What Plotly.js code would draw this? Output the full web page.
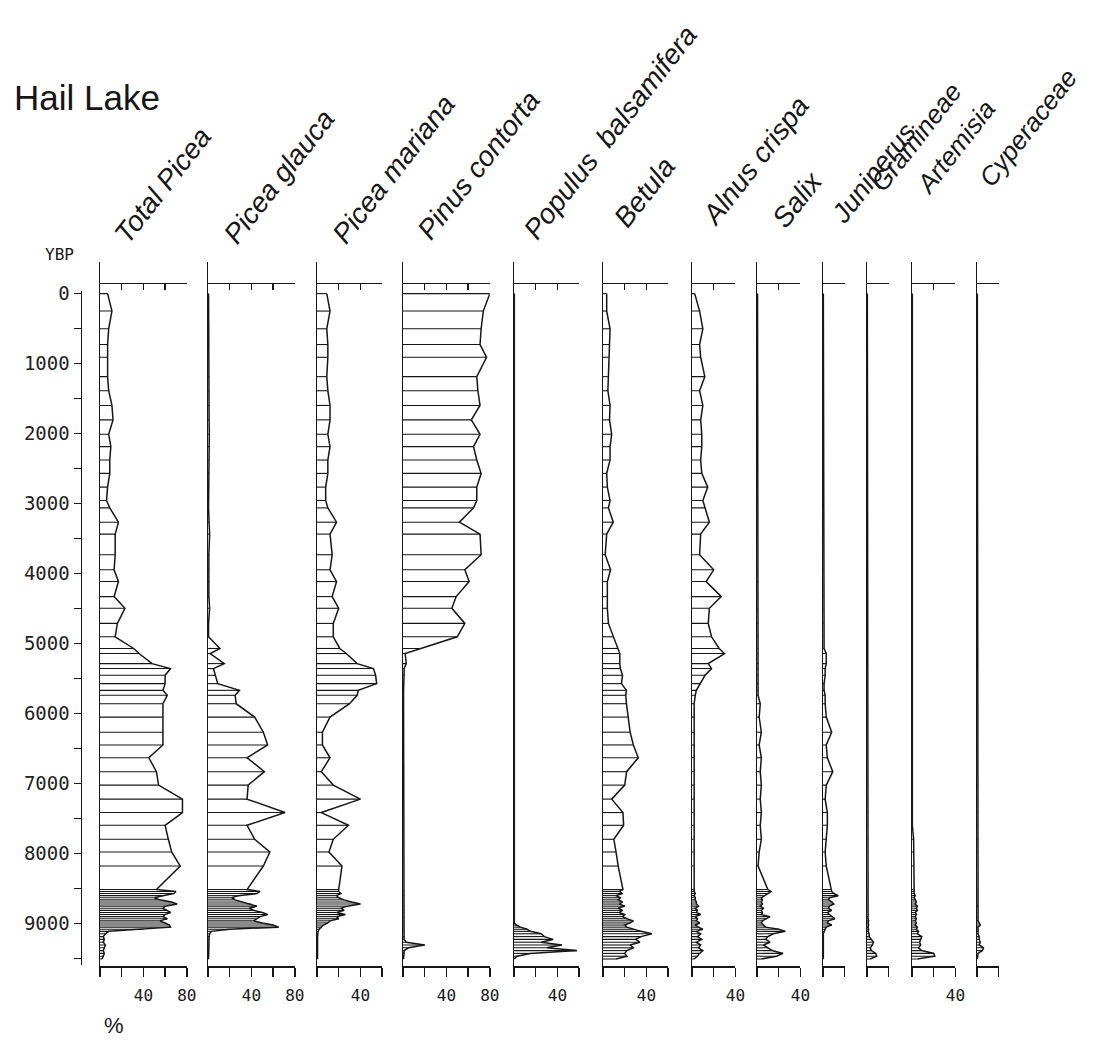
<!DOCTYPE html>
<html><head><meta charset="utf-8">
<script src="https://cdn.plot.ly/plotly-3.0.1.min.js"></script>
<style>body{margin:0;background:#fff}#chart{width:1106px;height:1042px}</style>
</head><body><div id="chart"></div>
<script>
// ---- DATA ----
const ages = [5,254,507,732,914,1191,1392,1602,1808,2014,2191,2382,2573,2769,2960,3066,3270,3440,
 3735,3950,4118,4333,4500,4716,4907,5074,5146,5290,5361,5457,5576,5672,5743,5863,6054,6270,6452,6635,
 6834,7026,7226,7418,7600,7800,7981,8182,8518,
 8545,8575,8605,8635,8665,8695,8725,8755,8785,8815,8845,8875,8905,8935,8965,8995,9025,9055,9085,9115,
 9150,9190,9230,9270,9310,9350,9390,9430,9470,9510];

const taxa = ['Total Picea','Picea glauca','Picea mariana','Pinus contorta','Populus&nbsp; balsamifera','Betula',
 'Alnus crispa','Salix','Juniperus','Gramineae','Artemisia','Cyperaceae'];
const axisMax = [80,80,60,80,60,60,40,40,20,20,40,20];
const labelledTicks = [[40,80],[40,80],[40],[40,80],[40],[40],[40],[40],[],[],[40],[]];
const ageTicks = [0,500,1000,1500,2000,2500,3000,3500,4000,4500,5000,5500,6000,6500,7000,7500,8000,8500,9000,9500];
const ageTickText = ['0','','1000','','2000','','3000','','4000','','5000','','6000','','7000','','8000','','9000',''];

const totalPicea = [7,11,8,7,7,7,8,11,12,8,10,9,9,7,6,9,17,14,
 14,13,17,13,23,16,14,31,36,48,65,60,60,58,62,58,58,58,58,45,
 52,54,76,76,60,63,66,74,52,
 70,68,58,50,55,66,71,60,58,62,65,60,58,62,55,60,64,65,40,8,
 5,3,4,3,5,4,3,4,3,2];
const piceaGlauca = [0.5,0.5,0.5,0.5,0.5,0.8,0.8,1,1,1.2,1,0.8,0.8,0.5,0.5,0.5,1,1.5,
 0.8,0.8,0.8,0.8,1.5,0.5,0.5,11,2,15,5,7,9,29,25,26,43,51,55,36,
 52,37,36,71,36,43,57,51,36,
 48,45,28,22,25,32,40,45,38,42,50,55,48,45,42,50,60,65,20,3,
 1.5,1,1,1,1,1,1,1,0.5,0.5];
const piceaMariana = [9,12,9,10,10,9,10,12,12,10,12,10,10,8,8,10,18,12,
 14,12,18,14,20,15,15,21,27,37,52,54,55,38,37,30,12,5,5,12,
 4,15,40,4,29,15,11,23,20,
 20,22,18,20,25,32,40,28,22,25,18,26,18,20,12,10,6,4,2,1,
 0.5,0.5,0.5,0.5,0.5,0.5,0.5,0.5,0.5,0.5];
const pinusContorta = [80,74,72,71,77,68,69,71,63,71,65,68,72,68,68,65,52,71,
 72,57,61,49,45,57,50,15,2,3,1,1,0.5,0.5,0.5,0.5,0.5,0.5,0.5,0.5,
 0.5,0.5,0.5,0.5,0.5,0.5,0.5,0.5,0.5,
 0.5,0.5,0.5,0.5,0.5,0.5,0.5,0.5,0.5,0.5,0.5,0.5,0.5,0.5,0.5,0.5,0.5,0.5,0.5,0.5,
 0.5,1,1,3,20,5,1,1,1,0.5];
const populusBalsamifera = [0.3,0.3,0.3,0.3,0.3,0.3,0.3,0.3,0.3,0.3,0.3,0.3,0.3,0.3,0.3,0.3,0.3,0.3,
 0.3,0.3,0.3,0.3,0.3,0.3,0.3,0.3,0.3,0.3,0.3,0.3,0.3,0.3,0.3,0.3,0.3,0.3,0.3,0.3,
 0.3,0.3,0.3,0.3,0.3,0.3,0.3,0.3,0.3,
 0.3,0.3,0.3,0.3,0.3,0.3,0.3,0.3,0.3,0.3,0.3,0.3,0.3,0.3,0.3,0.3,2,6,12,15,
 25,28,36,25,44,30,58,15,3,0];
const betula = [3.4,3.4,6.5,6,5,4.5,4.5,6.5,6,8,6.5,6.5,3.4,4,6.5,5,9.5,3.4,
 2,7,4,4,4,5,9.5,14,15.5,15.5,16,18,17,21.6,21,21.6,23,25,28,32.5,
 21.8,20,8,18.4,19,10,12,14,18.4,
 15,18,12,16,14,18,15,20,14,18,15,20,18,22,28,25,20,22,28,35,
 45,35,30,34,25,28,22,20,22,12];
const alnusCrispa = [2.5,7,10,7,8,11.8,7,10,8,9,9,8,9,14.5,10,12,16,8,
 7,20,13,27,16,15,18,25,30,15,18,12,8,4,3,2,2,2,2,2,
 1.5,1.5,1.5,1.5,1.5,1.5,1.5,1.5,2,
 2,3,2,3,3,4,4,6,3,5,4,8,3,5,4,7,3,6,10,4,
 8,5,9,4,8,6,10,7,5,2];
const salix = [0.5,0.5,0.5,0.8,0.5,0.5,0.8,0.5,0.5,0.8,0.5,0.5,0.8,0.5,0.5,0.5,0.8,0.5,
 0.5,0.5,0.8,0.5,0.5,0.5,0.5,0.5,0.5,0.8,0.5,0.5,0.8,0.5,1,3,2,4,2,4,
 3,4,3,4,3,4,2,1,10,
 13,10,6,4,5,4,5,3,6,4,5,4,12,9,5,4,6,8,20,26,
 15,10,8,12,6,10,14,24,18,4];
const juniperus = [0.3,0.3,0.3,0.3,0.3,0.3,0.3,0.3,0.3,0.3,0.3,0.3,0.3,0.3,0.3,0.3,0.3,0.3,
 0.3,0.3,0.3,0.3,0.3,0.3,0.3,1,3,3,2,2,1,1,2,2,3,8,3,4,
 9,3,2,4,4,3,2,3,8,
 8,10,14,6,5,8,10,6,5,8,4,6,9,11,5,4,8,3,2,1,
 0.3,0.3,0.3,0.3,0.3,0.3,0.3,0.3,0.3,0.3];
const gramineae = [0.3,0.3,0.3,0.3,0.3,0.3,0.3,0.3,0.3,0.3,0.3,0.3,0.3,0.3,0.3,0.3,0.3,0.3,
 0.3,0.3,0.3,0.3,0.3,0.3,0.3,0.3,0.3,0.3,0.3,0.3,0.3,0.3,0.3,0.3,0.3,0.3,0.3,0.3,
 0.3,0.3,0.3,0.3,0.3,0.3,0.3,0.3,0.3,
 0.3,0.3,0.3,0.3,0.3,0.3,0.3,0.3,0.3,0.3,0.3,0.3,1,1,1.5,1,1.5,1,1.5,1,
 2,2,4,6,5,3,4,8,9,3];
const artemisia = [0.3,0.3,0.3,0.3,0.3,0.3,0.3,0.3,0.3,0.3,0.3,0.3,0.3,0.3,0.3,0.3,0.3,0.3,
 0.3,0.3,0.3,0.3,0.3,0.3,0.3,0.3,0.3,0.3,0.3,0.3,0.3,0.3,0.3,0.3,0.3,0.3,0.3,0.3,
 0.3,0.3,0.3,0.3,0.3,1.5,1.5,1.5,1.5,
 2,2,3,2,3,4,3,5,4,5,3,4,3,4,3,4,3,5,4,6,
 5,9,8,7,8,6,9,20,21,5];
const cyperaceae = [0.3,0.3,0.3,0.3,0.3,0.3,0.3,0.3,0.3,0.3,0.3,0.3,0.3,0.3,0.3,0.3,0.3,0.3,
 0.3,0.3,0.3,0.3,0.3,0.3,0.3,0.3,0.3,0.3,0.3,0.3,0.3,0.3,0.3,0.3,0.3,0.3,0.3,0.3,
 0.3,0.3,0.3,0.3,0.3,0.3,0.3,0.3,0.3,
 0.3,0.3,0.3,0.3,0.3,0.3,0.3,1,0.3,0.3,0.3,0.3,0.3,0.3,1,2,3,1,1,1,
 1,2,2,3,2,6,5,1,0.5,0.3];

const series = [totalPicea,piceaGlauca,piceaMariana,pinusContorta,populusBalsamifera,betula,
 alnusCrispa,salix,juniperus,gramineae,artemisia,cyperaceae];

// ---- LAYOUT GEOMETRY ----
const W = 1106, H = 1042;
const panelLeftPx = [100,208,317,403,514,603,692,757,823,867,912,977];
const pxPerPct = 1.085;
const labelPos = [[105,252],[215,252],[323,252],[408,248],[515,248],[605,236],[693,234],[763,236],[823,232],[862,200],[907,202],[970,195]];
const labelSize = [28,28,28,28,28,28,28,28,27,26,26,26];
const ink = '#161616';
const mono = 'DejaVu Sans Mono, Liberation Mono, monospace';

const px = v => v / W;
const py = v => 1 - v / H;
const xid = n => n === 1 ? 'x' : 'x' + n;
const yid = n => n === 1 ? 'y' : 'y' + n;
const xkey = n => n === 1 ? 'xaxis' : 'xaxis' + n;
const ykey = n => n === 1 ? 'yaxis' : 'yaxis' + n;

const traces = [];
const layout = {
  width: W, height: H,
  margin: {l: 0, r: 0, t: 0, b: 0},
  paper_bgcolor: '#fff', plot_bgcolor: 'rgba(0,0,0,0)',
  showlegend: false,
  annotations: [],
  font: {family: 'Liberation Sans, Arial, sans-serif', color: ink}
};

const yRange = [9610, -447];
const yDomain = [py(966), py(262)];

series.forEach((vals, i) => {
  const n = i + 1;
  const max = axisMax[i];
  const x0 = panelLeftPx[i];
  const dom = [px(x0), px(x0 + max * pxPerPct)];
  const tv = [];
  for (let t = 0; t <= max; t += 20) tv.push(t);
  const tt = tv.map(t => labelledTicks[i].includes(t) ? String(t) : '');

  const hx = [], hy = [];
  vals.forEach((v, k) => { hx.push(0, v, null); hy.push(ages[k], ages[k], null); });
  traces.push({x: hx, y: hy, xaxis: xid(n), yaxis: yid(n), mode: 'lines',
    line: {color: ink, width: 1.1}, hoverinfo: 'skip'});
  traces.push({x: vals, y: ages, xaxis: xid(n), yaxis: yid(n), mode: 'lines',
    line: {color: ink, width: 1.5}, hoverinfo: 'skip'});

  layout[xkey(n)] = {domain: dom, range: [0, max], anchor: yid(n), showline: true,
    linecolor: ink, linewidth: 1.5, ticks: 'outside', ticklen: 9, tickwidth: 1.5, tickcolor: ink,
    tickvals: tv, ticktext: tt, ticklabelstandoff: 5, showgrid: false, zeroline: false,
    tickfont: {family: mono, size: 16, color: ink}, fixedrange: true};
  const ya = {domain: yDomain, range: yRange, anchor: xid(n), showline: true, linecolor: ink,
    linewidth: 1.5, ticks: '', showticklabels: false, showgrid: false, zeroline: false, fixedrange: true};
  if (n > 1) ya.matches = 'y';
  layout[ykey(n)] = ya;

  const tn = 12 + n;
  layout[xkey(tn)] = {domain: dom, range: [0, max], overlaying: xid(n), side: 'top', anchor: 'free',
    position: py(282.7), showline: true, linecolor: ink, linewidth: 1.5, ticks: 'inside', ticklen: 6,
    tickwidth: 1.5, tickcolor: ink, tickvals: tv, showticklabels: false, showgrid: false,
    zeroline: false, fixedrange: true};
  traces.push({x: [vals[0]], y: [ages[0]], xaxis: xid(tn), yaxis: yid(n), mode: 'markers',
    marker: {size: 1, opacity: 0}, hoverinfo: 'skip'});

  layout.annotations.push({text: '<i>' + taxa[i] + '</i>', xref: 'paper', yref: 'paper',
    x: px(labelPos[i][0]), y: py(labelPos[i][1]), xanchor: 'left', yanchor: 'bottom',
    textangle: -52, showarrow: false,
    font: {family: 'Liberation Sans, Arial, sans-serif', size: labelSize[i], color: ink}});
});

// YBP age axis
layout.xaxis25 = {domain: [px(82), px(90)], range: [0, 1], anchor: 'y13', visible: false, fixedrange: true};
layout.yaxis13 = {domain: [py(965), py(291)], range: [9596, -33], anchor: 'x25', side: 'left',
  showline: true, linecolor: ink, linewidth: 1.5, ticks: 'outside', ticklen: 7, tickwidth: 1.5,
  tickcolor: ink, tickvals: ageTicks, ticktext: ageTickText, showgrid: false, zeroline: false,
  tickfont: {family: mono, size: 19, color: '#222'}, fixedrange: true};
traces.push({x: [0], y: [ages[0]], xaxis: 'x25', yaxis: 'y13', mode: 'markers',
  marker: {size: 1, opacity: 0}, hoverinfo: 'skip'});

layout.annotations.push(
  {text: 'Hail Lake', xref: 'paper', yref: 'paper', x: px(12), y: py(97), xanchor: 'left', yanchor: 'middle',
   showarrow: false, font: {family: 'Liberation Sans Narrow, Liberation Sans, Arial, sans-serif', size: 35, color: ink}},
  {text: 'YBP', xref: 'paper', yref: 'paper', x: px(43), y: py(254), xanchor: 'left', yanchor: 'middle',
   showarrow: false, font: {family: mono, size: 16, color: ink}},
  {text: '%', xref: 'paper', yref: 'paper', x: px(102), y: py(1025), xanchor: 'left', yanchor: 'middle',
   showarrow: false, font: {family: 'Liberation Sans, Arial, sans-serif', size: 22, color: ink}}
);

Plotly.newPlot('chart', traces, layout, {displayModeBar: false, staticPlot: true});
</script></body></html>
